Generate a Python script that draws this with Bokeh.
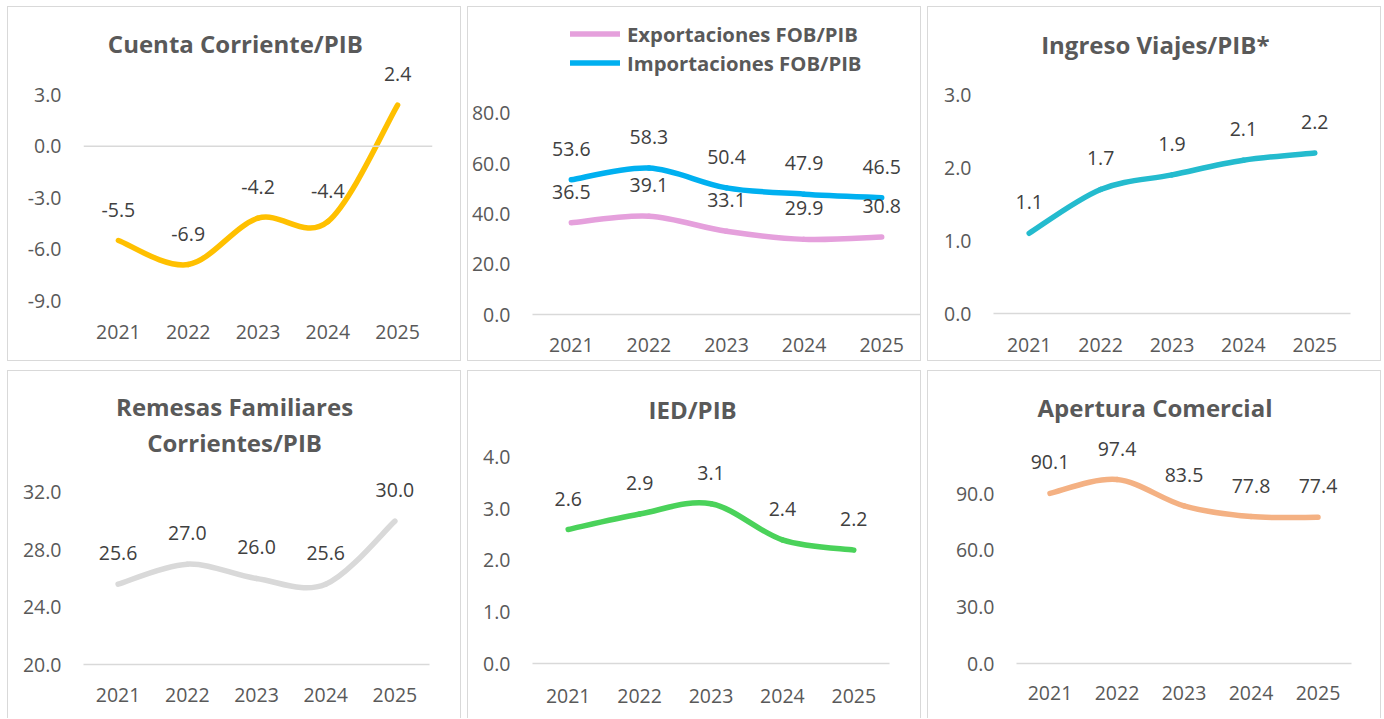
from bokeh.plotting import figure
from bokeh.models import (ColumnDataSource, FixedTicker, NumeralTickFormatter, Range1d,
                          LabelSet, Span, Legend, LegendItem, Title)
from bokeh.layouts import row, column
from bokeh.core.properties import value
from bokeh.embed import file_html
from bokeh.resources import INLINE

# ---------------- data ----------------
years = ["2021", "2022", "2023", "2024", "2025"]
cuenta_corriente = [-5.5, -6.9, -4.2, -4.4, 2.4]
exportaciones = [36.5, 39.1, 33.1, 29.9, 30.8]
importaciones = [53.6, 58.3, 50.4, 47.9, 46.5]
ingreso_viajes = [1.1, 1.7, 1.9, 2.1, 2.2]
remesas = [25.6, 27.0, 26.0, 25.6, 30.0]
ied = [2.6, 2.9, 3.1, 2.4, 2.2]
apertura = [90.1, 97.4, 83.5, 77.8, 77.4]

ticks_cc = [-9, -6, -3, 0, 3]
ticks_comercio = [0, 20, 40, 60, 80]
ticks_viajes = [0, 1, 2, 3]
ticks_remesas = [20, 24, 28, 32]
ticks_ied = [0, 1, 2, 3, 4]
ticks_apertura = [0, 30, 60, 90]

FONT = "Open Sans"
TICK_COLOR = "#595959"
LABEL_COLOR = "#404040"
TITLE_COLOR = "#595959"
AXIS_COLOR = "#D9D9D9"
TICK_SIZE = "19.5px"
TITLE_PX = 24
TITLE_SIZE = f"{TITLE_PX}px"
LINE_W = 5.5
BORDER_TOP_ROW = {"border": "1px solid #D9D9D9"}
BORDER_BOTTOM_ROW = {"border": "1px solid #D9D9D9", "border-bottom": "none"}
# approximate rendered widths of the bold titles (px at 23.5px), for centring
TITLE_W235 = {"Cuenta Corriente/PIB": 248, "Ingreso Viajes/PIB*": 222,
              "Remesas Familiares": 232, "Corrientes/PIB": 171,
              "IED/PIB": 90, "Apertura Comercial": 229}


def smooth_source(vals):
    """Bezier segments (Catmull-Rom style, like a spreadsheet's smoothed line)."""
    n = len(vals)
    xs = list(range(n))

    def P(i):
        i = max(0, min(n - 1, i))
        return xs[i], vals[i]

    d = dict(x0=[], y0=[], x1=[], y1=[], cx0=[], cy0=[], cx1=[], cy1=[])
    for i in range(n - 1):
        xa, ya = P(i)
        xb, yb = P(i + 1)
        xp, yp = P(i - 1)
        xn, yn = P(i + 2)
        d["x0"].append(xa); d["y0"].append(ya)
        d["x1"].append(xb); d["y1"].append(yb)
        d["cx0"].append(xa + (xb - xp) / 6.0); d["cy0"].append(ya + (yb - yp) / 6.0)
        d["cx1"].append(xb - (xn - xa) / 6.0); d["cy1"].append(yb - (yn - ya) / 6.0)
    return ColumnDataSource(d)


def make_panel(W, H, fl, fr, ft, fb, yr, yticks, titles, standoffs, xstand,
               zero_line=False, ystand=22, title_cx=226, styles=BORDER_TOP_ROW):
    p = figure(width=W, height=H, x_range=Range1d(-0.5, len(years) - 0.5),
               y_range=Range1d(*yr), output_backend="svg", toolbar_location=None,
               min_border_left=fl, min_border_right=W - fr,
               min_border_top=ft, min_border_bottom=H - fb)
    p.frame_align = False
    p.styles = styles
    p.outline_line_color = None
    p.xgrid.visible = False
    p.ygrid.visible = False
    p.background_fill_color = "white"
    p.border_fill_color = "white"

    ya = p.yaxis[0]
    ya.ticker = FixedTicker(ticks=yticks)
    ya.formatter = NumeralTickFormatter(format="0.0")
    ya.axis_line_color = None
    ya.major_tick_line_color = None
    ya.minor_tick_line_color = None
    ya.major_tick_out = 0
    ya.major_tick_in = 0
    ya.major_label_standoff = ystand
    ya.major_label_text_font = FONT
    ya.major_label_text_font_size = TICK_SIZE
    ya.major_label_text_color = TICK_COLOR

    xa = p.xaxis[0]
    xa.ticker = FixedTicker(ticks=list(range(len(years))))
    xa.major_label_overrides = {i: y for i, y in enumerate(years)}
    xa.axis_line_color = None if zero_line else AXIS_COLOR
    xa.axis_line_width = 1.5
    xa.major_tick_line_color = None
    xa.minor_tick_line_color = None
    xa.major_tick_out = 0
    xa.major_tick_in = 0
    xa.major_label_standoff = xstand
    xa.major_label_text_font = FONT
    xa.major_label_text_font_size = TICK_SIZE
    xa.major_label_text_color = TICK_COLOR

    if zero_line:
        p.add_layout(Span(location=0, dimension="width", line_color=AXIS_COLOR,
                          line_width=1.5))

    # titles listed top to bottom; add bottom-most first (closest to frame)
    for t, so in reversed(list(zip(titles, standoffs))):
        w = TITLE_W235[t] * TITLE_PX / 23.5
        tt = Title(text=t, align="left", offset=title_cx - w / 2.0 - fl,
                   text_font=FONT, text_font_style="bold",
                   text_font_size=TITLE_SIZE, text_color=TITLE_COLOR,
                   standoff=so)
        p.add_layout(tt, "above")
    return p


def add_series(p, vals, color, label_offset=31):
    r = p.bezier(x0="x0", y0="y0", x1="x1", y1="y1", cx0="cx0", cy0="cy0",
                 cx1="cx1", cy1="cy1", source=smooth_source(vals),
                 line_color=color, line_width=LINE_W, line_cap="round")
    src = ColumnDataSource(dict(x=list(range(len(vals))), y=vals,
                                label=[f"{v:.1f}" for v in vals]))
    p.add_layout(LabelSet(x="x", y="y", text="label", source=src,
                          y_offset=label_offset, text_align="center",
                          text_baseline="middle", text_font=value(FONT),
                          text_font_size=TICK_SIZE, text_color=LABEL_COLOR))
    return r


W = 454
H1 = 355
H2 = 348

# ---------------- panels ----------------
p1 = make_panel(W, H1, 75, 424, 53, 293, (-9, 5.0), ticks_cc,
                ["Cuenta Corriente/PIB"], [2], 24, zero_line=True)
add_series(p1, cuenta_corriente, "#FFC000")

p2 = make_panel(W, H1, 63, 452, 8, 307, (0, 119.0), ticks_comercio,
                [], [], 23)
r_exp = add_series(p2, exportaciones, "#E5A0DC")
r_imp = add_series(p2, importaciones, "#00B0F0")
legend = Legend(items=[LegendItem(label="Exportaciones FOB/PIB", renderers=[r_exp], index=0),
                       LegendItem(label="Importaciones FOB/PIB", renderers=[r_imp], index=0)],
                location=(38, 237), orientation="vertical",
                glyph_width=50, glyph_height=29, label_height=29, label_standoff=7,
                spacing=0, padding=0, margin=0, border_line_color=None,
                background_fill_alpha=0, label_text_font=FONT,
                label_text_font_style="bold", label_text_font_size="20.3px",
                label_text_color=TITLE_COLOR, label_text_baseline="middle")
p2.add_layout(legend)

p3 = make_panel(W, H1, 65, 422, 55, 306, (0, 3.44), ticks_viajes,
                ["Ingreso Viajes/PIB*"], [4], 24)
add_series(p3, ingreso_viajes, "#24BBCE")

p4 = make_panel(W, H2, 75, 421, 90, 293, (20, 34.16), ticks_remesas,
                ["Remesas Familiares", "Corrientes/PIB"], [-3, 5], 23,
                styles=BORDER_BOTTOM_ROW)
add_series(p4, remesas, "#D9D9D9")

p5 = make_panel(W, H2, 64, 421, 56, 292, (0, 4.58), ticks_ied,
                ["IED/PIB"], [4], 25, styles=BORDER_BOTTOM_ROW)
add_series(p5, ied, "#4AD25A")

p6 = make_panel(W, H2, 88, 423, 55, 292, (0, 125.5), ticks_apertura,
                ["Apertura Comercial"], [5], 22, styles=BORDER_BOTTOM_ROW)
add_series(p6, apertura, "#F4B183")

layout = column(row(p1, p2, p3, spacing=6), row(p4, p5, p6, spacing=6),
                spacing=9, margin=(6, 0, 0, 7))

open("out.html", "w").write(file_html(layout, INLINE))
